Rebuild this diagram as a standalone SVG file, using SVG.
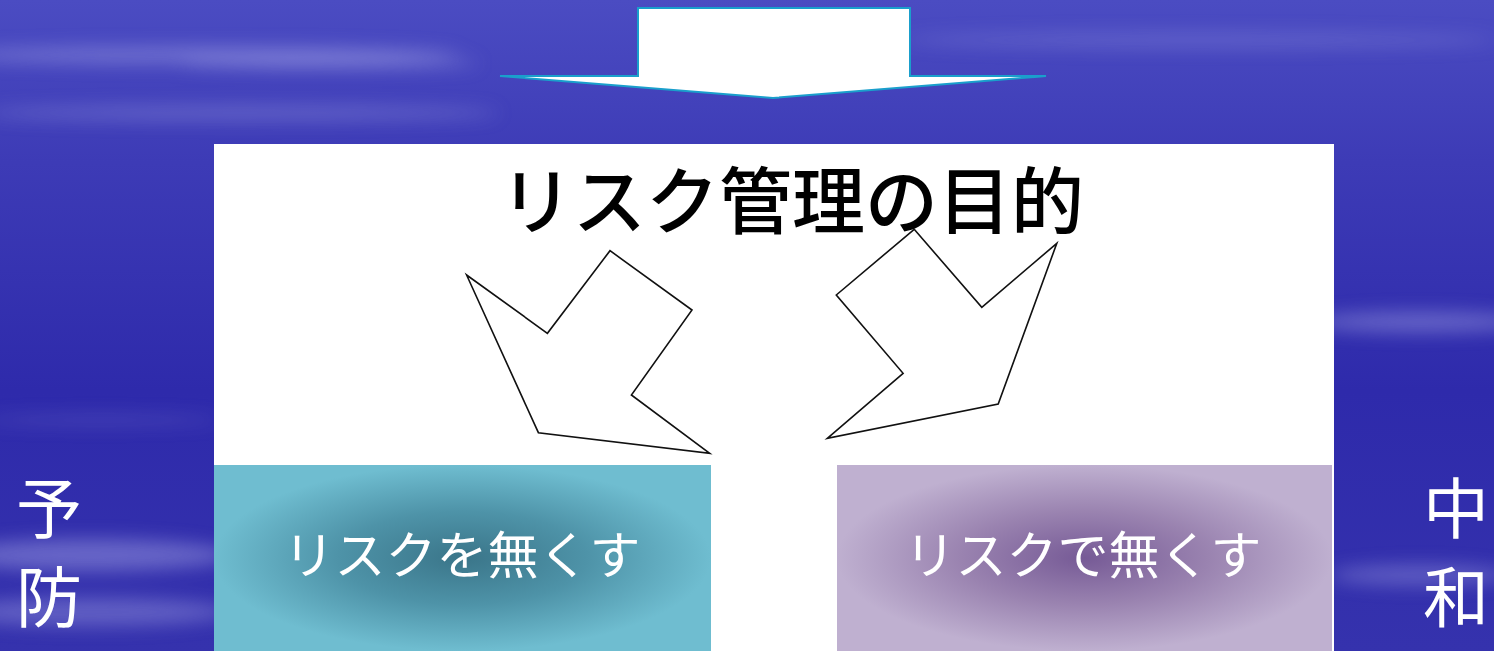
<svg xmlns="http://www.w3.org/2000/svg" width="1494" height="651" viewBox="0 0 1494 651">
<style>
.jp{font-family:"Noto Sans CJK JP","Noto Sans CJK SC",sans-serif}
.side{fill:#fff;font-size:66px}
.box{fill:#fff;font-size:51px}
.arrow{fill:#fff;stroke:#111;stroke-width:1.6;stroke-linejoin:miter}
</style>
<defs>
<linearGradient id="bg" x1="0" y1="0" x2="0" y2="1">
<stop offset="0" stop-color="#4b4cc2"/>
<stop offset="0.25" stop-color="#3d3bb6"/>
<stop offset="0.6" stop-color="#2e2aab"/>
<stop offset="1" stop-color="#3532ad"/>
</linearGradient>
<radialGradient id="teal" cx="0.5" cy="0.5" r="0.5">
<stop offset="0" stop-color="#3a7589"/>
<stop offset="0.5" stop-color="#4e93a8"/>
<stop offset="1" stop-color="#6fbdd0"/>
</radialGradient>
<radialGradient id="purp" cx="0.5" cy="0.5" r="0.5">
<stop offset="0" stop-color="#765a96"/>
<stop offset="0.5" stop-color="#9a83b0"/>
<stop offset="1" stop-color="#bfb0d0"/>
</radialGradient>
<filter id="blur" x="-20%" y="-300%" width="140%" height="700%"><feGaussianBlur stdDeviation="9"/></filter>
</defs>
<g id="background">
<rect x="0" y="0" width="1494" height="651" fill="url(#bg)"/>
<g filter="url(#blur)" fill="#b8b8f0">
<ellipse cx="200" cy="55" rx="260" ry="8" opacity="0.4"/>
<ellipse cx="330" cy="63" rx="150" ry="4" opacity="0.45"/>
<ellipse cx="240" cy="113" rx="260" ry="7" opacity="0.3"/>
<ellipse cx="1200" cy="40" rx="300" ry="7" opacity="0.25"/>
<ellipse cx="1420" cy="322" rx="110" ry="10" opacity="0.4"/>
<ellipse cx="1420" cy="575" rx="90" ry="10" opacity="0.35"/>
<ellipse cx="90" cy="555" rx="140" ry="16" opacity="0.4"/>
<ellipse cx="90" cy="612" rx="140" ry="14" opacity="0.35"/>
<ellipse cx="100" cy="420" rx="120" ry="5" opacity="0.18"/>
</g>
</g>
<g id="top-arrow">
<polygon points="638,8 910,8 910,76 1046,76 773,98 500,76 638,76" fill="#fff" stroke="#1a9fcc" stroke-width="2"/>
</g>
<g id="panel">
<rect x="214" y="144" width="1120" height="507" fill="#fff"/>
<text class="jp" x="792" y="228" font-size="73" font-weight="500" fill="#000" text-anchor="middle">リスク管理の目的</text>
</g>
<g id="connectors">
<polygon class="arrow" points="466.6,275 547.4,333.3 610,250.7 692,310 631.4,395 709.7,453.3 538.4,432.7"/>
<polygon class="arrow" points="914.2,229.3 981.8,307.3 1056.8,243.3 998.2,404 827.3,438.3 903.1,373.3 836.3,295"/>
</g>
<g id="box-left">
<rect x="214" y="465" width="497" height="186" fill="url(#teal)"/>
<text class="jp box" x="462" y="574" text-anchor="middle">リスクを無くす</text>
</g>
<g id="box-right">
<rect x="837" y="465" width="495" height="186" fill="url(#purp)"/>
<text class="jp box" x="1083" y="574" text-anchor="middle">リスクで無くす</text>
</g>
<g id="label-left">
<text class="jp side" x="49" y="533" text-anchor="middle">予</text>
<text class="jp side" x="49" y="622" text-anchor="middle">防</text>
</g>
<g id="label-right">
<text class="jp side" x="1456" y="533" text-anchor="middle">中</text>
<text class="jp side" x="1456" y="622" text-anchor="middle">和</text>
</g>
</svg>
